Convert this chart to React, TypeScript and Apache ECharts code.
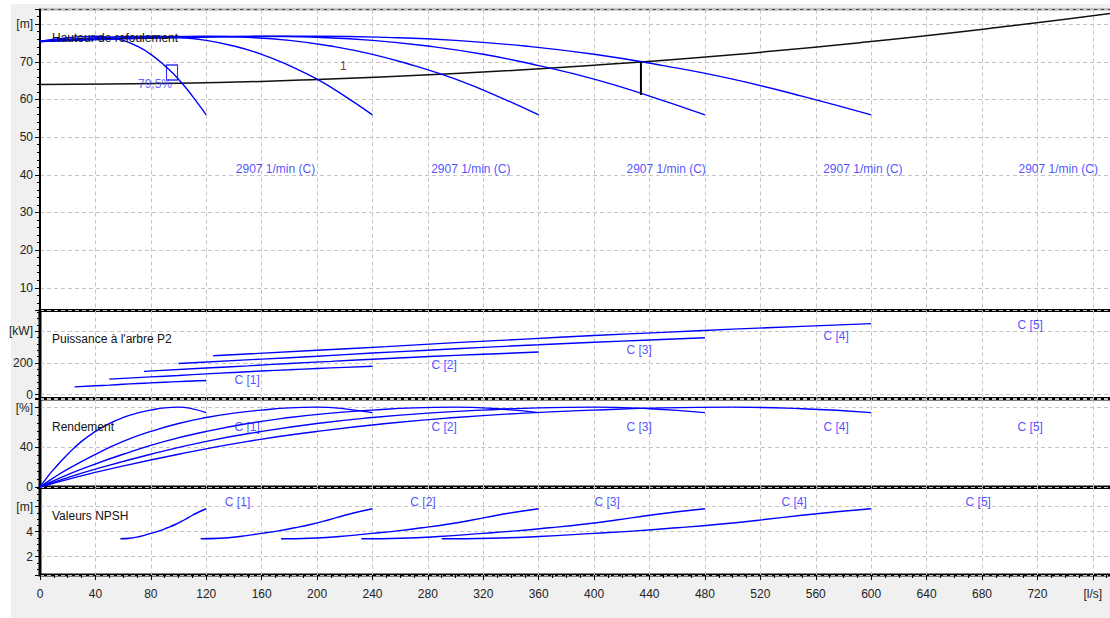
import React, { useEffect, useRef } from "react";
import * as echarts from "echarts";

const FONT = "Liberation Sans, Arial, sans-serif";
const BLUE = "#0000ff";
const LABEL_BLUE = "#2424ff";

// ---------- axis labels ----------
const xUnitLabel = "[l/s]";
const yUnitLabels = ["[m]", "[kW]", "[%]", "[m]"];
const panelTitles = ["Hauteur de refoulement", "Puissance à l'arbre P2", "Rendement", "Valeurs NPSH"];

// ---------- Head curves (m) ----------
const headFlowC1 = [0, 10, 20, 30, 40, 50, 60, 70, 80, 90, 100, 110, 120];
const headFlowC2 = [0, 20, 40, 60, 80, 100, 120, 140, 160, 180, 200, 220, 240];
const headFlowC3 = [0, 30, 60, 90, 120, 150, 180, 210, 240, 270, 300, 330, 360];
const headFlowC4 = [0, 40, 80, 120, 160, 200, 240, 280, 320, 360, 400, 440, 480];
const headFlowC5 = [0, 50, 100, 150, 200, 250, 300, 350, 400, 450, 500, 550, 600];
const headValues = [75.4, 76.0, 76.4, 76.7, 76.8, 76.5, 75.7, 74.2, 72.0, 69.0, 65.4, 60.9, 55.9];

// system curve
const systemFlow = [0, 100, 200, 300, 400, 500, 600, 700, 776];
const systemHead = [64.0, 64.3, 65.3, 66.9, 69.1, 71.9, 75.4, 79.5, 83.0];

// operating point marker / vertical mark
const opPointFlow = [95.3];
const opPointHead = [67.2];
const opPointLabel = ["79,5%"];
const opLineFlow = [433.8, 433.8];
const opLineHead = [70.0, 61.2];
const systemLabelFlow = [219];
const systemLabelHead = [69.0];
const systemLabelText = ["1"];

const speedLabelFlow = [170, 311, 452, 594, 735];
const speedLabelHead = [41.5, 41.5, 41.5, 41.5, 41.5];
const speedLabelText = ["2907 1/min (C)", "2907 1/min (C)", "2907 1/min (C)", "2907 1/min (C)", "2907 1/min (C)"];

// ---------- Power curves (kW) ----------
const powerFlowC1 = [25, 40, 50, 60, 70, 80, 90, 100, 110, 120];
const powerC1 = [49, 56, 60.5, 65.5, 70, 74.5, 78.5, 82.5, 86, 89.5];
const powerFlowC2 = [50, 80, 100, 120, 140, 160, 180, 200, 220, 240];
const powerC2 = [98, 112, 121, 131, 140, 149, 157, 165, 172, 179];
const powerFlowC3 = [75, 120, 150, 180, 210, 240, 270, 300, 330, 360];
const powerC3 = [147, 168, 181.5, 196.5, 210, 223.5, 235.5, 247.5, 258, 268.5];
const powerFlowC4 = [100, 160, 200, 240, 280, 320, 360, 400, 440, 480];
const powerC4 = [196, 224, 242, 262, 280, 298, 314, 330, 344, 358];
const powerFlowC5 = [125, 200, 250, 300, 350, 400, 450, 500, 550, 600];
const powerC5 = [245, 280, 302.5, 327.5, 350, 372.5, 392.5, 412.5, 430, 447.5];

const curveLabelText = ["C [1]", "C [2]", "C [3]", "C [4]", "C [5]"];
const powerLabelFlow = [149.5, 291.7, 432.5, 574.7, 714.8];
const powerLabelValue = [91, 186, 281, 370, 439];

// ---------- Efficiency curves (%) ----------
const effFlowC1 = [0, 5, 10, 20, 30, 40, 50, 60, 70, 80, 90, 100, 110, 120];
const effFlowC2 = [0, 10, 20, 40, 60, 80, 100, 120, 140, 160, 180, 200, 220, 240];
const effFlowC3 = [0, 15, 30, 60, 90, 120, 150, 180, 210, 240, 270, 300, 330, 360];
const effFlowC4 = [0, 20, 40, 80, 120, 160, 200, 240, 280, 320, 360, 400, 440, 480];
const effFlowC5 = [0, 25, 50, 100, 150, 200, 250, 300, 350, 400, 450, 500, 550, 600];
const effValues = [0, 9.5, 18, 33, 46, 56, 64, 70, 74.5, 77.5, 79.8, 80.5, 78.8, 75];
const effLabelFlow = [149.5, 291.7, 432.5, 574.7, 714.8];
const effLabelValue = [60, 60, 60, 60, 60];

// ---------- NPSH curves (m) ----------
const npshFlowC1 = [58, 65, 72, 80, 86, 92, 98, 104, 110, 115, 120];
const npshFlowC2 = [116, 130, 144, 160, 172, 184, 196, 208, 220, 230, 240];
const npshFlowC3 = [174, 195, 216, 240, 258, 276, 294, 312, 330, 345, 360];
const npshFlowC4 = [232, 260, 288, 320, 344, 368, 392, 416, 440, 460, 480];
const npshFlowC5 = [290, 325, 360, 400, 430, 460, 490, 520, 550, 575, 600];
const npshValues = [3.42, 3.46, 3.6, 3.85, 4.05, 4.3, 4.58, 4.92, 5.3, 5.58, 5.82];
const npshLabelFlow = [142.6, 276.5, 409.4, 544.4, 677.3];
const npshLabelValue = [6.36, 6.36, 6.36, 6.36, 6.36];

// ---------- helpers ----------
const zip = (xs: number[], ys: number[]) => xs.map((x, i) => [x, ys[i]]);

function curve(flows: number[], vals: number[], g: number, color = BLUE, width = 1.4, smooth: number | boolean = true) {
  return {
    type: "line",
    xAxisIndex: g,
    yAxisIndex: g,
    data: zip(flows, vals),
    symbol: "none",
    showSymbol: false,
    smooth,
    lineStyle: { color, width },
    silent: true,
    z: 3,
  };
}

function labels(flows: number[], vals: number[], texts: string[], g: number, color = LABEL_BLUE) {
  return {
    type: "scatter",
    xAxisIndex: g,
    yAxisIndex: g,
    symbol: "circle",
    symbolSize: 1,
    itemStyle: { color: "rgba(0,0,0,0)" },
    data: flows.map((q, i) => ({ value: [q, vals[i]], name: texts[i] })),
    label: { show: true, position: "inside", formatter: "{b}", color, fontSize: 12, fontFamily: FONT },
    silent: true,
    z: 5,
  };
}

const grids = [
  { left: 40, top: 9.5, width: 1075, height: 300.5, borderColor: "#404040", borderWidth: 1.5 },
  { left: 40, top: 310.5, width: 1075, height: 88, borderColor: "#000", borderWidth: 3 },
  { left: 40, top: 399, width: 1075, height: 88, borderColor: "#000", borderWidth: 3 },
  { left: 40, top: 487.5, width: 1075, height: 87.5, borderColor: "#000", borderWidth: 3 },
].map((g) => ({ ...g, show: true, backgroundColor: "#ffffff", containLabel: false, outerBoundsMode: "none" }));

const splitLine = { show: true, lineStyle: { color: "#c4c4c4", type: [4, 3], width: 1 } };

const xAxes = [0, 1, 2, 3].map((i) => ({
  type: "value",
  gridIndex: i,
  min: 0,
  max: 776,
  interval: 40,
  axisLine: { show: false },
  axisTick: { show: i === 3, length: 5, inside: false, lineStyle: { color: "#000", width: 1 } },
  minorTick: { show: i === 3, splitNumber: 4, length: 3, lineStyle: { color: "#000", width: 1 } },
  axisLabel: {
    show: i === 3,
    margin: 13,
    color: "#222",
    fontSize: 12,
    fontFamily: FONT,
    showMaxLabel: false,
    hideOverlap: false,
    formatter: (v: number) => (v === 760 ? xUnitLabel : v % 40 === 0 && v < 760 ? String(v) : ""),
  },
  splitLine,
}));

const yCfg = [
  { min: 4.1, max: 83.9, splitNumber: 8, minor: 5, fmt: (v: number) => (v === 80 ? yUnitLabels[0] : v >= 10 && v <= 70 && v % 10 === 0 ? String(v) : "") },
  { min: -24, max: 530, splitNumber: 3, minor: 5, fmt: (v: number) => (v === 400 ? yUnitLabels[1] : v === 0 || v === 200 ? String(v) : "") },
  { min: 0, max: 88.7, interval: 40, minor: 5, fmt: (v: number) => (v === 80 ? yUnitLabels[2] : v === 0 || v === 40 ? String(v) : "") },
  { min: 0.52, max: 7.52, splitNumber: 4, minor: 4, fmt: (v: number) => (v === 6 ? yUnitLabels[3] : v === 2 || v === 4 ? String(v) : "") },
];

const yAxes = yCfg.map((c, i) => ({
  type: "value",
  gridIndex: i,
  min: c.min,
  max: c.max,
  ...(c.interval ? { interval: c.interval } : { splitNumber: c.splitNumber }),
  axisLine: { show: true, lineStyle: { color: "#000", width: 2 } },
  axisTick: { show: true, length: 5, lineStyle: { color: "#000", width: 1 } },
  minorTick: { show: true, splitNumber: c.minor, length: 3, lineStyle: { color: "#000", width: 1 } },
  axisLabel: { margin: 7, color: "#222", fontSize: 12, fontFamily: FONT, formatter: c.fmt, showMinLabel: true, showMaxLabel: true },
  splitLine,
}));

const titleTops = [32, 333, 421, 510];

export default function App() {
  const ref = useRef<HTMLDivElement>(null);
  useEffect(() => {
    if (!ref.current) return;
    const chart = echarts.init(ref.current, null, { renderer: "svg" });
    const series: any[] = [
      // head
      curve(systemFlow, systemHead, 0, "#111", 1.5),
      curve(headFlowC1, headValues, 0),
      curve(headFlowC2, headValues, 0),
      curve(headFlowC3, headValues, 0),
      curve(headFlowC4, headValues, 0),
      curve(headFlowC5, headValues, 0),
      { ...curve(opLineFlow, opLineHead, 0, "#000", 2, false), z: 4 },
      {
        type: "scatter",
        xAxisIndex: 0,
        yAxisIndex: 0,
        symbol: "rect",
        symbolSize: [11, 15],
        itemStyle: { color: "rgba(0,0,0,0)", borderColor: BLUE, borderWidth: 1.3 },
        data: opPointFlow.map((q, i) => ({ value: [q, opPointHead[i]], name: opPointLabel[i] })),
        label: { show: true, position: "inside", offset: [-17, 12], formatter: "{b}", color: "#3a3aff", fontSize: 12, fontFamily: FONT },
        silent: true,
        z: 6,
      },
      labels(systemLabelFlow, systemLabelHead, systemLabelText, 0, "#6a0000"),
      labels(speedLabelFlow, speedLabelHead, speedLabelText, 0),
      // power
      curve(powerFlowC1, powerC1, 1),
      curve(powerFlowC2, powerC2, 1),
      curve(powerFlowC3, powerC3, 1),
      curve(powerFlowC4, powerC4, 1),
      curve(powerFlowC5, powerC5, 1),
      labels(powerLabelFlow, powerLabelValue, curveLabelText, 1),
      // efficiency
      curve(effFlowC1, effValues, 2),
      curve(effFlowC2, effValues, 2),
      curve(effFlowC3, effValues, 2),
      curve(effFlowC4, effValues, 2),
      curve(effFlowC5, effValues, 2),
      labels(effLabelFlow, effLabelValue, curveLabelText, 2),
      // npsh
      curve(npshFlowC1, npshValues, 3),
      curve(npshFlowC2, npshValues, 3),
      curve(npshFlowC3, npshValues, 3),
      curve(npshFlowC4, npshValues, 3),
      curve(npshFlowC5, npshValues, 3),
      labels(npshLabelFlow, npshLabelValue, curveLabelText, 3),
    ];
    chart.setOption({
      animation: false,
      backgroundColor: "#ffffff",
      textStyle: { fontFamily: FONT },
      graphic: [
        { type: "rect", z: -100, silent: true, shape: { x: 11, y: 4, width: 1099, height: 614 }, style: { fill: "#f0f0f0" } },
      ],
      title: panelTitles.map((t, i) => ({
        text: t,
        left: 52,
        top: titleTops[i],
        padding: 0,
        textStyle: { fontSize: 12, fontWeight: "normal", color: "#111", fontFamily: FONT },
      })),
      grid: grids,
      xAxis: xAxes,
      yAxis: yAxes,
      series,
    });
    return () => chart.dispose();
  }, []);
  return <div ref={ref} style={{ position: "absolute", left: 0, top: 0, width: 1110, height: 618 }} />;
}
